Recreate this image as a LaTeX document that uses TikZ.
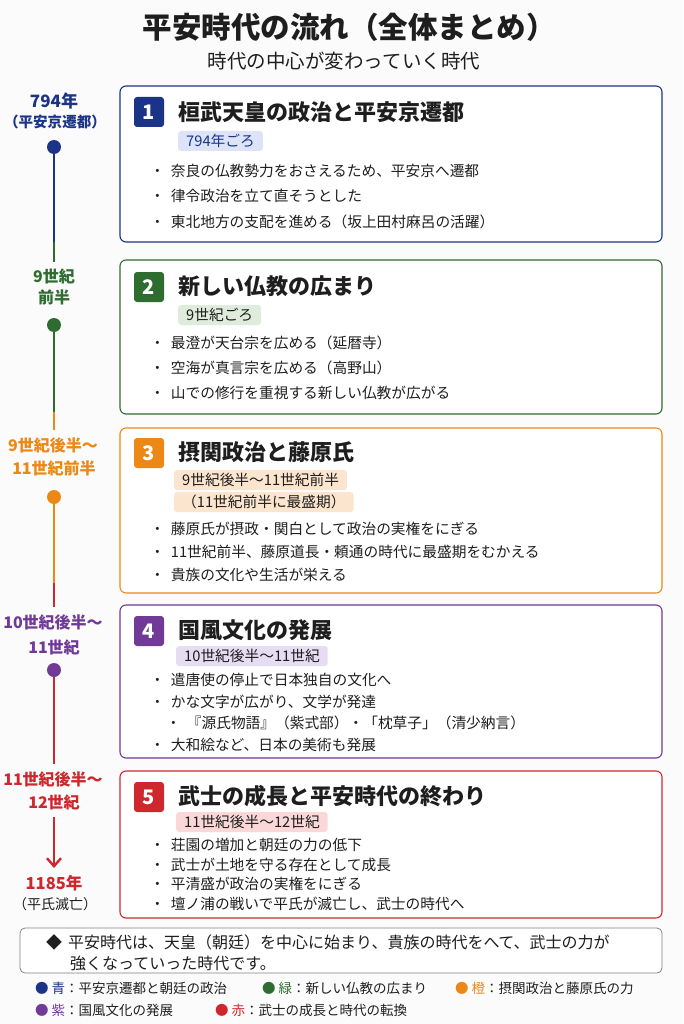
\documentclass[tikz,border=0pt]{standalone}
\usepackage{fontspec}
\setmainfont{Noto Sans CJK JP}
\usetikzlibrary{arrows.meta}
\definecolor{bg}{RGB}{251,251,251}
\definecolor{tdark}{RGB}{30,30,30}
\definecolor{cblue}{RGB}{28,52,135}
\definecolor{cgreen}{RGB}{46,108,48}
\definecolor{corange}{RGB}{236,136,22}
\definecolor{cpurple}{RGB}{112,58,150}
\definecolor{cred}{RGB}{206,40,46}
\definecolor{lblue}{RGB}{221,228,248}
\definecolor{lgreen}{RGB}{223,236,219}
\definecolor{lorange}{RGB}{252,229,206}
\definecolor{lpurple}{RGB}{231,221,243}
\definecolor{lred}{RGB}{250,216,216}
\definecolor{cgray}{RGB}{130,130,130}
\newcommand{\fs}[1]{\fontsize{#1}{#1}\selectfont}
\tikzset{
  card/.style={draw=#1, line width=1.1pt, rounded corners=6pt, fill=white},
  badge/.style={fill=#1, rounded corners=3pt, minimum width=30pt, minimum height=30pt, inner sep=0pt, text=white, font=\fs{20}\bfseries},
  heading/.style={anchor=west, inner sep=0pt, font=\fs{22}\bfseries, text=tdark},
  pill/.style={anchor=west, fill=#1, rounded corners=3pt, inner xsep=8pt, inner ysep=0pt, minimum height=20pt, font=\fs{14.7}, text=tdark},
  item/.style={anchor=west, inner sep=0pt, font=\fs{14.7}, text=tdark},
  tl/.style={inner sep=0pt, font=\fs{16}\bfseries, text=#1},
  dot/.style={circle, fill=#1, minimum size=14pt, inner sep=0pt},
  tline/.style={draw=#1, line width=2.4pt},
  legend/.style={anchor=west, inner sep=0pt, font=\fs{13.5}, text=tdark},
}
\begin{document}
\begin{tikzpicture}[x=1pt,y=-1pt]
\useasboundingbox[fill=bg] (0,0) rectangle (683,1024);
% title
\node[font=\fs{29.5}\bfseries, text=tdark] (title) at (349,27) {平安時代の流れ（全体まとめ）};
\node[font=\fs{19.5}, text=tdark] (subtitle) at (344,61) {時代の中心が変わっていく時代};

% cards
\draw[card=cblue] (120,86) rectangle (662,242);
\draw[card=cgreen] (120,260) rectangle (662,414);
\draw[card=corange] (120,428) rectangle (662,593);
\draw[card=cpurple] (120,605) rectangle (662,758);
\draw[card=cred] (120,771) rectangle (662,918);

% card 1
\node[badge=cblue] (b1) at (149,112) {1};
\node[heading] (h1) at (178,112) {桓武天皇の政治と平安京遷都};
\node[pill=lblue, text=cblue] (p1) at (178,141) {794年ごろ};
\node[item] (i11) at (150,171) {・\hspace{6pt}奈良の仏教勢力をおさえるため、平安京へ遷都};
\node[item] (i12) at (150,196) {・\hspace{6pt}律令政治を立て直そうとした};
\node[item] (i13) at (150,222) {・\hspace{6pt}東北地方の支配を進める（坂上田村麻呂の活躍）};

% card 2
\node[badge=cgreen] (b2) at (149,287) {2};
\node[heading] (h2) at (178,286) {新しい仏教の広まり};
\node[pill=lgreen] (p2) at (178,315) {9世紀ごろ};
\node[item] (i21) at (150,343) {・\hspace{6pt}最澄が天台宗を広める（延暦寺）};
\node[item] (i22) at (150,368) {・\hspace{6pt}空海が真言宗を広める（高野山）};
\node[item] (i23) at (150,393) {・\hspace{6pt}山での修行を重視する新しい仏教が広がる};

% card 3
\node[badge=corange] (b3) at (149,453) {3};
\node[heading] (h3) at (178,452) {摂関政治と藤原氏};
\node[pill=lorange] (p3a) at (174,480) {9世紀後半～11世紀前半};
\node[pill=lorange] (p3b) at (174,502) {（11世紀前半に最盛期）};
\node[item] (i31) at (150,529) {・\hspace{6pt}藤原氏が摂政・関白として政治の実権をにぎる};
\node[item] (i32) at (150,552) {・\hspace{6pt}11世紀前半、藤原道長・頼通の時代に最盛期をむかえる};
\node[item] (i33) at (150,575) {・\hspace{6pt}貴族の文化や生活が栄える};

% card 4
\node[badge=cpurple] (b4) at (149,631) {4};
\node[heading] (h4) at (178,630) {国風文化の発展};
\node[pill=lpurple] (p4) at (176,656) {10世紀後半～11世紀};
\node[item] (i41) at (150,680) {・\hspace{6pt}遣唐使の停止で日本独自の文化へ};
\node[item] (i42) at (150,702) {・\hspace{6pt}かな文字が広がり、文学が発達};
\node[item] (i43) at (166,723) {・\hspace{6pt}『源氏物語』（紫式部）・「枕草子」（清少納言）};
\node[item] (i44) at (150,745) {・\hspace{6pt}大和絵など、日本の美術も発展};

% card 5
\node[badge=cred] (b5) at (149,797) {5};
\node[heading] (h5) at (178,796) {武士の成長と平安時代の終わり};
\node[pill=lred] (p5) at (176,822) {11世紀後半～12世紀};
\node[item] (i51) at (150,845) {・\hspace{6pt}荘園の増加と朝廷の力の低下};
\node[item] (i52) at (150,865) {・\hspace{6pt}武士が土地を守る存在として成長};
\node[item] (i53) at (150,884) {・\hspace{6pt}平清盛が政治の実権をにぎる};
\node[item] (i54) at (150,904) {・\hspace{6pt}壇ノ浦の戦いで平氏が滅亡し、武士の時代へ};

% timeline
\node[tl=cblue, font=\fs{17}\bfseries] (t1a) at (54,101) {794年};
\node[tl=cblue, font=\fs{14.5}\bfseries] (t1b) at (55,122) {（平安京遷都）};
\node[dot=cblue] (d1) at (54,147) {};
\coordinate (j1) at (54,242);
\coordinate (e1) at (54,262);
\draw[tline=cblue] (d1.center) -- (j1);
\draw[tline=cgreen] (j1) -- (e1);

\node[tl=cgreen] (t2a) at (54,276) {9世紀};
\node[tl=cgreen] (t2b) at (54,297) {前半};
\node[dot=cgreen] (d2) at (54,325) {};
\coordinate (j2) at (54,412);
\coordinate (e2) at (54,430);
\draw[tline=cgreen] (d2.center) -- (j2);
\draw[tline=corange] (j2) -- (e2);

\node[tl=corange] (t3a) at (53,445) {9世紀後半～};
\node[tl=corange] (t3b) at (54,468) {11世紀前半};
\node[dot=corange] (d3) at (54,497) {};
\coordinate (j3) at (54,583);
\coordinate (e3) at (54,607);
\draw[tline=corange] (d3.center) -- (j3);
\draw[tline=cred] (j3) -- (e3);

\node[tl=cpurple] (t4a) at (53,622) {10世紀後半～};
\node[tl=cpurple] (t4b) at (54,647) {11世紀};
\coordinate (j4) at (54,764);
\node[dot=cpurple] (d4) at (54,670) {};
\draw[tline=cred] (d4.south) -- (j4);

\node[tl=cred] (t5a) at (53,779) {11世紀後半～};
\node[tl=cred] (t5b) at (54,802) {12世紀};
\coordinate (a0) at (54,817);
\coordinate (a1) at (54,868);
\draw[tline=cred, -{Straight Barb[length=8pt,width=14pt,line width=2.4pt]}] (a0) -- (a1);
\node[tl=cred, font=\fs{16.5}\bfseries] (t6a) at (54,883) {1185年};
\node[inner sep=0pt, font=\fs{14}, text=tdark] (t6b) at (55,904) {（平氏滅亡）};

% summary box
\draw[draw=cgray, line width=0.8pt, rounded corners=5pt, fill=white] (20,928) rectangle (662,973);
\node[anchor=west, inner sep=0pt, font=\fs{16}, text=tdark] (s1) at (46,942) {◆\hspace{6pt}平安時代は、天皇（朝廷）を中心に始まり、貴族の時代をへて、武士の力が};
\node[anchor=west, inner sep=0pt, font=\fs{16}, text=tdark] (s2) at (70,963) {強くなっていった時代です。};

% legend
\node[legend] (l1) at (35,988) {{\color{cblue}●}\hspace{3pt}{\color{cblue}青}：平安京遷都と朝廷の政治};
\node[legend] (l2) at (262,988) {{\color{cgreen}●}\hspace{3pt}{\color{cgreen}緑}：新しい仏教の広まり};
\node[legend] (l3) at (455,988) {{\color{corange}●}\hspace{3pt}{\color{corange}橙}：摂関政治と藤原氏の力};
\node[legend] (l4) at (35,1010) {{\color{cpurple}●}\hspace{3pt}{\color{cpurple}紫}：国風文化の発展};
\node[legend] (l5) at (215,1010) {{\color{cred}●}\hspace{3pt}{\color{cred}赤}：武士の成長と時代の転換};
\end{tikzpicture}
\end{document}
